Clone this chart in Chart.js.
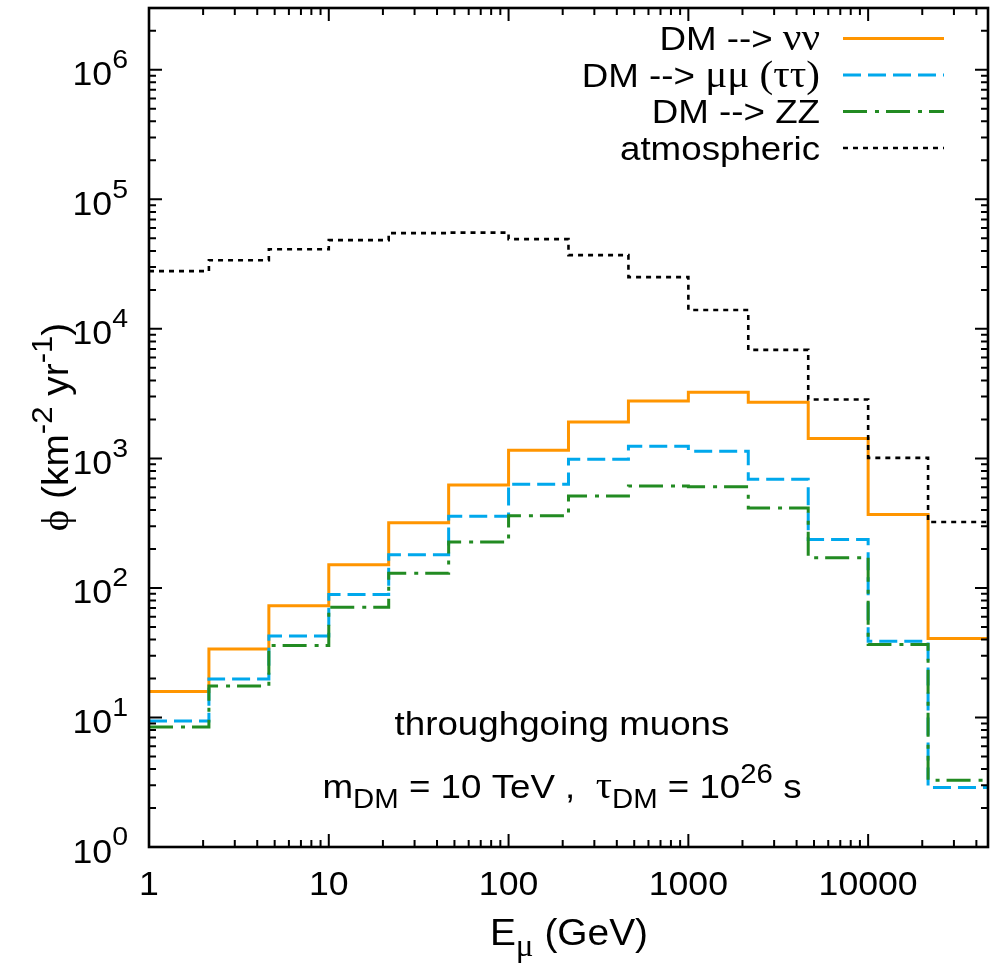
<!DOCTYPE html>
<html><head><meta charset="utf-8">
<script src="https://cdn.jsdelivr.net/npm/chart.js@4"></script>
<style>html,body{margin:0;padding:0;background:#fff;} #wrap{width:996px;height:965px;}</style>
</head><body><div id="wrap"><canvas id="c" width="996" height="965"></canvas></div>
<script>
// ---- data ----
const binEdges = [1, 2.154, 4.642, 10, 21.54, 46.42, 100, 215.4, 464.2, 1000, 2154, 4642, 10000, 21544, 46416];
const fluxNuNu = [15.9, 33.8, 73, 151, 318, 624, 1156, 1914, 2770, 3245, 2717, 1425, 369, 40.7];
const fluxMuMu = [9.4, 19.8, 42.6, 89, 180, 358, 633, 986, 1242, 1135, 690, 237, 38.8, 2.88];
const fluxZZ = [8.45, 17.5, 35.9, 71, 130, 226, 360, 513, 613, 603, 415, 171, 36.6, 3.27];
const fluxAtmo = [27900, 33900, 41200, 48400, 54800, 55300, 49300, 37100, 25100, 14000, 6880, 2850, 1010, 323];
const xTickValues = [1, 10, 100, 1000, 10000];
const xTickLabels = ['1', '10', '100', '1000', '10000'];
const yTickValues = [1, 10, 100, 1000, 10000, 100000, 1000000];
const yTickExponents = ['0', '1', '2', '3', '4', '5', '6'];
const seriesLabels = ['DM --> νν', 'DM --> μμ (ττ)', 'DM --> ZZ', 'atmospheric'];

const SANS = '"Liberation Sans", Arial, sans-serif';
const SERIF = '"Liberation Serif", "Times New Roman", serif';
const FS = 33, SX = 1.08;

function steps(vals) {
  const pts = vals.map((v, i) => ({x: binEdges[i], y: v}));
  pts.push({x: binEdges[vals.length], y: vals[vals.length - 1]});
  return pts;
}

const styles = [
  {color: '#ff9500', dash: [], width: 3},
  {color: '#00a8ec', dash: [18, 7], width: 3},
  {color: '#228b22', dash: [24, 8, 4, 7], width: 3},
  {color: '#000000', dash: [5, 5], width: 2.6}
];
const allSeries = [fluxNuNu, fluxMuMu, fluxZZ, fluxAtmo];

function seg(t, o) { return Object.assign({t: t, serif: false, scale: 1, dy: 0}, o || {}); }
function fontFor(s, size) { return (size * s.scale) + 'px ' + (s.serif ? SERIF : SANS); }
function richWidth(ctx, segs, size) {
  let w = 0;
  for (const s of segs) { ctx.font = fontFor(s, size); w += ctx.measureText(s.t).width * SX; }
  return w;
}
function drawRich(ctx, segs, x, y, size, align) {
  const w = richWidth(ctx, segs, size);
  let cx = align === 'right' ? x - w : (align === 'center' ? x - w / 2 : x);
  ctx.textAlign = 'left'; ctx.textBaseline = 'alphabetic'; ctx.fillStyle = '#000';
  for (const s of segs) {
    ctx.font = fontFor(s, size);
    ctx.save(); ctx.translate(cx, y + s.dy * size); ctx.scale(SX, 1); ctx.fillText(s.t, 0, 0); ctx.restore();
    cx += ctx.measureText(s.t).width * SX;
  }
}

const decor = {
  id: 'decor',
  afterDraw(chart) {
    const ctx = chart.ctx, a = chart.chartArea, xs = chart.scales.x, ys = chart.scales.y;
    ctx.save();
    // frame
    ctx.strokeStyle = '#000'; ctx.lineWidth = 2.6; ctx.setLineDash([]);
    ctx.strokeRect(a.left, a.top, a.right - a.left, a.bottom - a.top);
    // ticks
    ctx.lineWidth = 2;
    ctx.beginPath();
    for (let d = 1; d <= 100000; d *= 10) {
      for (let m = 1; m <= 9; m++) {
        const v = d * m; if (v < 1 || v > 46416) continue;
        const px = xs.getPixelForValue(v), L = m === 1 ? 13 : 7;
        ctx.moveTo(px, a.bottom); ctx.lineTo(px, a.bottom - L);
        ctx.moveTo(px, a.top); ctx.lineTo(px, a.top + L);
      }
    }
    for (let d = 1; d <= 1e6; d *= 10) {
      for (let m = 1; m <= 9; m++) {
        const v = d * m; if (v < 1 || v > 3e6) continue;
        const py = ys.getPixelForValue(v), L = m === 1 ? 13 : 7;
        ctx.moveTo(a.left, py); ctx.lineTo(a.left + L, py);
        ctx.moveTo(a.right, py); ctx.lineTo(a.right - L, py);
      }
    }
    ctx.stroke();
    // x tick labels
    xTickValues.forEach((v, i) => {
      drawRich(ctx, [seg(xTickLabels[i])], xs.getPixelForValue(v), 895, FS, 'center');
    });
    // y tick labels 10^n
    yTickValues.forEach((v, i) => {
      const py = ys.getPixelForValue(v);
      drawRich(ctx, [seg('10'), seg(yTickExponents[i], {scale: 0.8, dy: -0.52})], 128, py + 15.5, FS, 'right');
    });
    // axis titles
    drawRich(ctx, [seg('E'), seg('μ', {serif: true, scale: 0.85, dy: 0.3}), seg(' (GeV)')], 569, 945, 36, 'center');
    ctx.save(); ctx.translate(68, 427); ctx.rotate(-Math.PI / 2);
    drawRich(ctx, [seg('ϕ', {serif: true, scale: 1.05}), seg(' (km'), seg('-2', {scale: 0.8, dy: -0.45}), seg(' yr'),
      seg('-1', {scale: 0.8, dy: -0.45}), seg(')')], 0, 0, 36, 'center');
    ctx.restore();
    // annotations
    drawRich(ctx, [seg('throughgoing muons')], 562, 735, 34, 'center');
    drawRich(ctx, [seg('m'), seg('DM', {scale: 0.8, dy: 0.3}), seg(' = 10 TeV ,  '), seg('τ', {serif: true, scale: 1.1}),
      seg('DM', {scale: 0.8, dy: 0.3}), seg(' = 10'), seg('26', {scale: 0.8, dy: -0.45}), seg(' s')], 562, 798, 34, 'center');
    // legend
    const legendSegs = [
      [seg('DM --> '), seg('νν', {serif: true, scale: 1.12})],
      [seg('DM --> '), seg('μμ (ττ)', {serif: true, scale: 1.12})],
      [seg('DM --> ZZ')],
      [seg('atmospheric')]
    ];
    const baselines = [50, 86.5, 123, 159.5];
    legendSegs.forEach((sg, i) => {
      drawRich(ctx, sg, 820, baselines[i], 34, 'right');
      const st = styles[i];
      ctx.strokeStyle = st.color; ctx.lineWidth = st.width; ctx.setLineDash(st.dash);
      ctx.beginPath(); ctx.moveTo(843, baselines[i] - 11.5); ctx.lineTo(944, baselines[i] - 11.5); ctx.stroke();
    });
    ctx.restore();
  }
};

new Chart(document.getElementById('c'), {
  type: 'line',
  data: {
    datasets: allSeries.map((vals, i) => ({
      label: seriesLabels[i],
      data: steps(vals),
      borderColor: styles[i].color,
      borderWidth: styles[i].width,
      borderDash: styles[i].dash,
      stepped: 'before',
      fill: false,
      pointRadius: 0,
      order: 3 - i
    }))
  },
  options: {
    responsive: false,
    animation: false,
    layout: {padding: {left: 149, right: 8, top: 8, bottom: 118}},
    plugins: {legend: {display: false}, tooltip: {enabled: false}},
    scales: {
      x: {type: 'logarithmic', min: 1, max: 46416, display: false},
      y: {type: 'logarithmic', min: 1, max: 3e6, display: false}
    }
  },
  plugins: [decor]
});
</script>
</body></html>
